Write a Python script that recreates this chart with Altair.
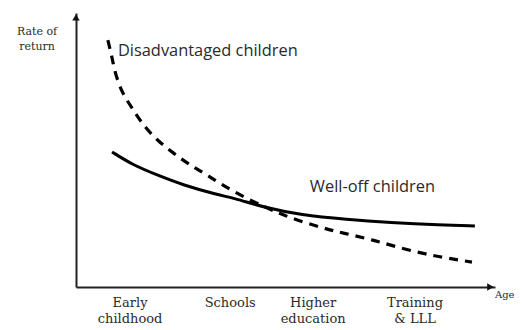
import altair as alt
import pandas as pd

# Disadvantaged children (dashed) - stage position (0-100) vs rate of return (0-100)
dis_x = [7.6, 8.6, 9.3, 11.0, 13.4, 16.0, 19.3, 23.2, 27.2, 31.3, 37.5, 45.6, 51.1,
         58.9, 63.7, 70.9, 79.0, 86.9, 94.5]
dis_y = [90.1, 83.9, 78.1, 70.8, 65.3, 59.1, 53.6, 48.9, 44.5, 40.9, 34.7, 28.8, 25.2,
         21.5, 19.7, 17.2, 13.5, 10.9, 9.1]

# Well-off children (solid)
well_x = [8.6, 13.6, 19.3, 25.5, 33.9, 37.5, 45.6, 53.5, 64.7, 74.9, 86.9, 95.2]
well_y = [49.3, 44.5, 40.9, 37.2, 33.6, 32.5, 28.8, 26.3, 24.6, 23.5, 22.6, 22.3]

# Stage labels along the age axis
stages = ["Early\nchildhood", "Schools", "Higher\neducation", "Training\n& LLL"]
stage_x = [12.9, 36.8, 56.6, 80.9]

series_labels = ["Disadvantaged children", "Well-off children"]
series_label_x = [10.0, 55.8]
series_label_y = [84.3, 34.7]

x_title = "Age"
y_title = "Rate of\nreturn"

xs = alt.Scale(domain=[0, 100], nice=False, zero=False)
ys = alt.Scale(domain=[0, 100], nice=False, zero=False)

ax = dict(domain=True, domainColor="#222", domainWidth=2, ticks=False,
          labels=False, grid=False, title=None)

dis_df = pd.DataFrame({"x": dis_x, "y": dis_y})
well_df = pd.DataFrame({"x": well_x, "y": well_y})

base_axes = alt.Chart(pd.DataFrame({"x": [0], "y": [0]})).mark_point(opacity=0).encode(
    x=alt.X("x:Q", scale=xs, axis=alt.Axis(orient="bottom", **ax)),
    y=alt.Y("y:Q", scale=ys, axis=alt.Axis(orient="left", **ax)),
)

dashed = alt.Chart(dis_df).mark_line(
    color="black", strokeWidth=3.2, strokeDash=[9, 7], interpolate="basis"
).encode(x=alt.X("x:Q", scale=xs), y=alt.Y("y:Q", scale=ys))

solid = alt.Chart(well_df).mark_line(
    color="black", strokeWidth=3, interpolate="basis"
).encode(x=alt.X("x:Q", scale=xs), y=alt.Y("y:Q", scale=ys))

arrows_df = pd.DataFrame({"x": [0, 98.9], "y": [98.4, 0], "shape": ["triangle-up", "triangle-right"]})
arrows = alt.Chart(arrows_df).mark_point(filled=True, color="#111", size=55, opacity=1).encode(
    x=alt.X("x:Q", scale=xs), y=alt.Y("y:Q", scale=ys),
    shape=alt.Shape("shape:N", scale=None, legend=None),
)

stage_df = pd.DataFrame({"x": stage_x, "y": [-7.3] * len(stages), "t": stages})
stage_text = alt.Chart(stage_df).mark_text(
    font="DejaVu Serif", fontSize=13, color="#2a2a2a", align="center",
    baseline="alphabetic", lineBreak="\n", lineHeight=16
).encode(x=alt.X("x:Q", scale=xs), y=alt.Y("y:Q", scale=ys), text="t:N")

age_text = alt.Chart(pd.DataFrame({"x": [100.0], "y": [-4.0], "t": [x_title]})).mark_text(
    font="DejaVu Serif", fontSize=10, color="#2a2a2a", align="left", baseline="alphabetic"
).encode(x=alt.X("x:Q", scale=xs), y=alt.Y("y:Q", scale=ys), text="t:N")

ytitle_text = alt.Chart(pd.DataFrame({"x": [-9.3], "y": [92.0], "t": [y_title]})).mark_text(
    font="DejaVu Serif", fontSize=11, color="#2a2a2a", align="center",
    baseline="alphabetic", lineBreak="\n", lineHeight=15
).encode(x=alt.X("x:Q", scale=xs), y=alt.Y("y:Q", scale=ys), text="t:N")

series_df = pd.DataFrame({"x": series_label_x, "y": series_label_y, "t": series_labels})
series_text = alt.Chart(series_df).mark_text(
    font="Open Sans", fontSize=16.4, color="#2a2a2a", align="left", baseline="alphabetic"
).encode(x=alt.X("x:Q", scale=xs), y=alt.Y("y:Q", scale=ys), text="t:N")

chart = alt.layer(base_axes, dashed, solid, arrows, stage_text, age_text, ytitle_text, series_text).properties(
    width=419, height=274,
    autosize=alt.AutoSizeParams(type="none"),
    padding={"left": 68, "top": 5, "right": 21, "bottom": 43},
    background="white",
).configure_view(stroke=None)

chart.save("out.html", embed_options={"renderer": "svg", "actions": False})
